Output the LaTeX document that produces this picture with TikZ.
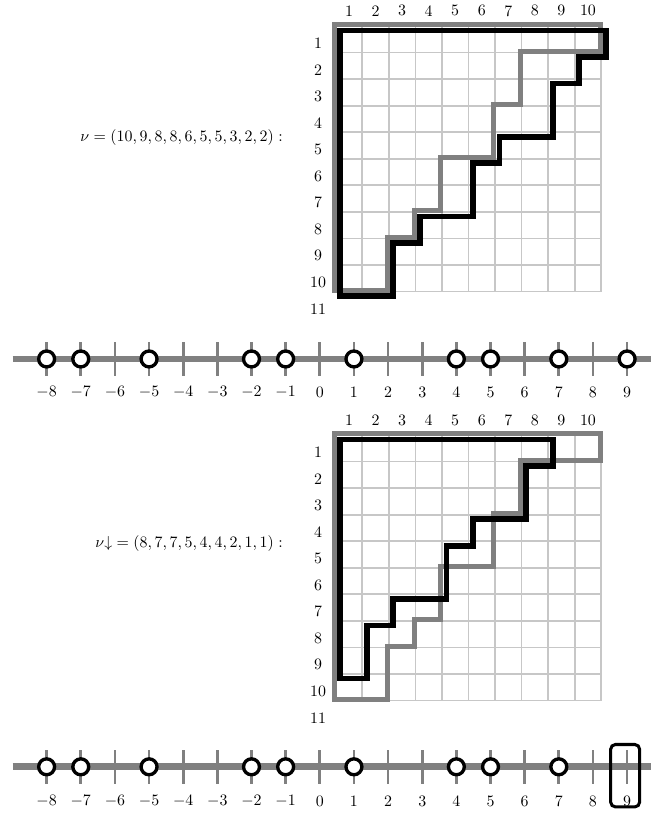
\documentclass[tikz,border=0pt]{standalone}
\usepackage{amsmath}
\usepackage{tikz}

\begin{document}
\begin{tikzpicture}[x=0.587cm,y=0.587cm,
  gridline/.style={draw=black!22,line width=1.1pt},
  shapegray/.style={draw=black!50,line width=3.2pt,xshift=-0.025cm,yshift=0.025cm},
  shapeblack/.style={draw=black,line width=3.6pt,xshift=0.1cm,yshift=-0.1cm},
  axisline/.style={draw=black!50,line width=4.2pt},
  tickline/.style={draw=black!50,line width=1.7pt},
  bead/.style={circle,draw=black,fill=white,line width=2.1pt,minimum size=0.352cm},
  selbox/.style={draw=black,line width=1.9pt,rounded corners=3pt,minimum width=0.64cm,minimum height=1.38cm}]
\tikzstyle{every node}+=[inner sep=0pt]
\useasboundingbox (-12.644,0.979) rectangle (11.876,-29.64);

\draw[gridline,step=1] (0,0) grid (10,-10);
\foreach \i in {1,...,10} \node (tc\i) at (\i-0.5,0.57) {\i};
\foreach \i in {1,...,11} \node (tr\i) at (-0.667,-\i+0.35) {\i};
\draw[shapegray] (0,-10) -- (0,0) -- (10,0) -- (10,-1) -- (7,-1) -- (7,-3) -- (6,-3) -- (6,-5) -- (4,-5) -- (4,-7) -- (3,-7) -- (3,-8) -- (2,-8) -- (2,-10) -- cycle;
\draw[shapeblack] (0,-10) -- (0,0) -- (10,0) -- (10,-1) -- (9,-1) -- (9,-2) -- (8,-2) -- (8,-4) -- (6,-4) -- (6,-5) -- (5,-5) -- (5,-7) -- (3,-7) -- (3,-8) -- (2,-8) -- (2,-10) -- cycle;
\node[anchor=east] (nutop) at (-1.985,-4.2) {$\nu=(10,9,8,8,6,5,5,3,2,2):$};

\draw[axisline] (-12.17,-12.54) -- (11.876,-12.54);
\foreach \k in {-8,...,9} {
  \draw[tickline] (-0.6+1.286*\k,-11.91) -- (-0.6+1.286*\k,-13.17);
  \node (la\k) at (-0.6+1.286*\k,-13.79) {$\k$};
}
\foreach \k in {-8,-7,-5,-2,-1,1,4,5,7,9} \node[bead] (pa\k) at (-0.6+1.286*\k,-12.54) {};

\begin{scope}[shift={(0,-15.405)}]
\draw[gridline,step=1] (0,0) grid (10,-10);
\foreach \i in {1,...,10} \node (bc\i) at (\i-0.5,0.57) {\i};
\foreach \i in {1,...,11} \node (br\i) at (-0.667,-\i+0.35) {\i};
\draw[shapegray] (0,-10) -- (0,0) -- (10,0) -- (10,-1) -- (7,-1) -- (7,-3) -- (6,-3) -- (6,-5) -- (4,-5) -- (4,-7) -- (3,-7) -- (3,-8) -- (2,-8) -- (2,-10) -- cycle;
\draw[shapeblack] (0,-9) -- (0,0) -- (8,0) -- (8,-1) -- (7,-1) -- (7,-3) -- (5,-3) -- (5,-4) -- (4,-4) -- (4,-6) -- (2,-6) -- (2,-7) -- (1,-7) -- (1,-9) -- cycle;
\node[anchor=east] (nubot) at (-1.985,-4.075) {$\nu{\downarrow}=(8,7,7,5,4,4,2,1,1):$};
\end{scope}

\draw[axisline] (-12.17,-27.9) -- (11.876,-27.9);
\foreach \k in {-8,...,9} {
  \draw[tickline] (-0.6+1.286*\k,-27.27) -- (-0.6+1.286*\k,-28.53);
  \node (lb\k) at (-0.6+1.286*\k,-29.2) {$\k$};
}
\foreach \k in {-8,-7,-5,-2,-1,1,4,5,7} \node[bead] (pb\k) at (-0.6+1.286*\k,-27.9) {};
\node[selbox] (sel) at (10.9,-28.235) {};
\end{tikzpicture}
\end{document}
